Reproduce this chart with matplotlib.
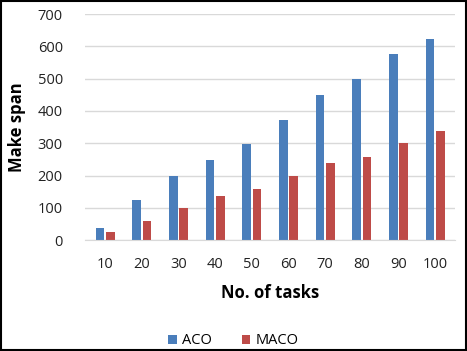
import numpy as np
import matplotlib
matplotlib.use("Agg")
from matplotlib import pyplot as plt
from matplotlib.patches import Rectangle

plt.rcParams["font.family"] = ["Open Sans", "DejaVu Sans"]

tasks = ["10", "20", "30", "40", "50", "60", "70", "80", "90", "100"]
aco = [38, 123, 200, 248, 298, 373, 448, 498, 575, 622]
maco = [24, 58, 98, 137, 157, 198, 238, 258, 300, 337]

fig = plt.figure(figsize=(4.67, 3.51), dpi=100)
ax = fig.add_axes([0.182, 0.316, 0.793, 0.644])

x = np.arange(len(tasks))
w = 0.23
ax.bar(x - w / 2 - 0.025, aco, width=w, color="#4a7ebb", label="ACO")
ax.bar(x + w / 2 + 0.025, maco, width=w, color="#be4b48", label="MACO")

ax.set_xlim(-0.55, len(tasks) - 0.45)
ax.set_ylim(0, 700)
ax.set_yticks(range(0, 701, 100))
ax.set_xticks(x)
ax.set_xticklabels(tasks)
ax.tick_params(length=0, labelsize=10.5, colors="#222222", pad=12)
ax.tick_params(axis="y", pad=16)
ax.grid(axis="y", color="#d9d9d9", linewidth=1)
ax.set_axisbelow(True)
for s in ["top", "right", "left"]:
    ax.spines[s].set_visible(False)
ax.spines["bottom"].set_color("#d9d9d9")

ax.set_xlabel("No. of tasks", fontsize=12, fontweight="bold", labelpad=9)
ax.set_ylabel("Make span", fontsize=12, fontweight="bold", labelpad=8)

fig.legend(loc="lower center", bbox_to_anchor=(0.50, -0.03), ncol=2, frameon=False,
           fontsize=10.5, handlelength=0.6, handleheight=0.6, columnspacing=2.0,
           handletextpad=0.4)

fig.patches.append(Rectangle((0.002, 0.003), 0.995, 0.994, transform=fig.transFigure,
                             fill=False, edgecolor="black", linewidth=1.5))

fig.savefig("out.png", dpi=100)
